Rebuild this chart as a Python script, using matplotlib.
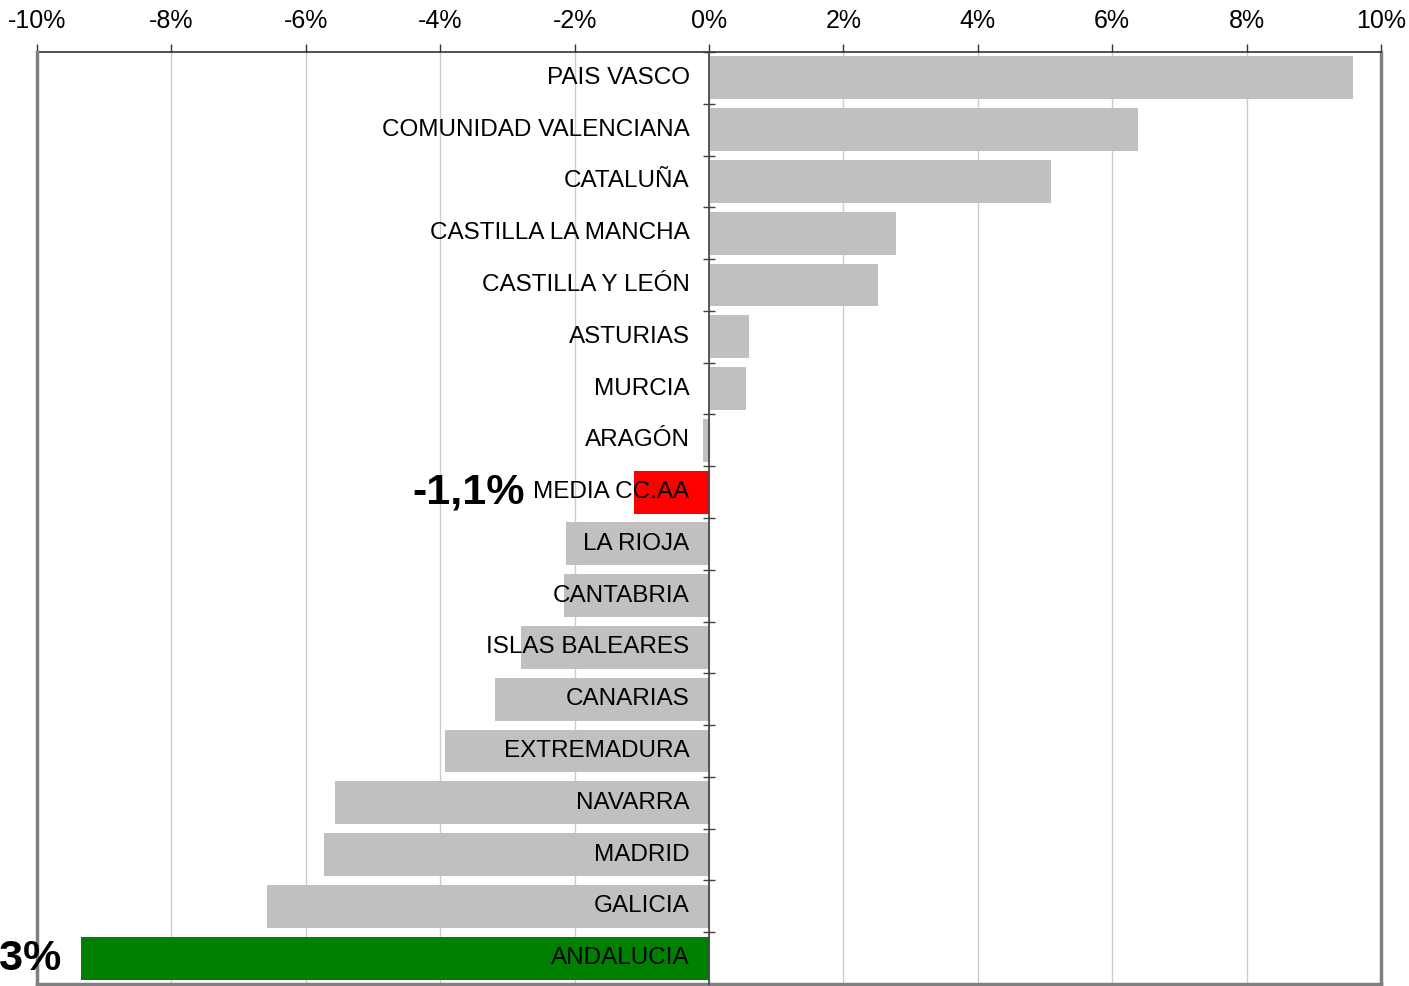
import matplotlib
matplotlib.use("Agg")
import matplotlib.pyplot as plt
import numpy as np
from matplotlib.ticker import FuncFormatter

categories = ["PAIS VASCO", "COMUNIDAD VALENCIANA", "CATALUÑA", "CASTILLA LA MANCHA",
              "CASTILLA Y LEÓN", "ASTURIAS", "MURCIA", "ARAGÓN", "MEDIA CC.AA",
              "LA RIOJA", "CANTABRIA", "ISLAS BALEARES", "CANARIAS", "EXTREMADURA",
              "NAVARRA", "MADRID", "GALICIA", "ANDALUCIA"]
values = [9.59, 6.39, 5.09, 2.78, 2.52, 0.60, 0.55, -0.09, -1.12,
          -2.13, -2.16, -2.80, -3.19, -3.93, -5.57, -5.73, -6.58, -9.34]
highlight_labels = {"MEDIA CC.AA": "-1,1%", "ANDALUCIA": "-9,3%"}
colors = {"MEDIA CC.AA": "#ff0000", "ANDALUCIA": "#008000"}
xticks = [-10, -8, -6, -4, -2, 0, 2, 4, 6, 8, 10]

plt.rcParams['font.family'] = ['Liberation Sans', 'DejaVu Sans']

fig = plt.figure(figsize=(14.09, 9.86), dpi=100)
ax = fig.add_axes([37/1409, 1 - 984/986, (1381-37)/1409, (984-52)/986])

n = len(categories)
y = np.arange(n)
bar_colors = [colors.get(c, "#c0c0c0") for c in categories]
ax.barh(y, values, height=0.83, color=bar_colors, zorder=2)

ax.set_xlim(-10, 10)
ax.set_ylim(n - 0.5, -0.5)

ax.set_xticks(xticks)
ax.xaxis.set_major_formatter(FuncFormatter(lambda v, p: f"{int(round(v))}%"))
ax.xaxis.tick_top()
ax.tick_params(axis='x', which='major', direction='out', length=6, width=1,
               color='#333333', labelsize=18, pad=8, labelcolor='black')
ax.grid(axis='x', color='#cccccc', linewidth=1, zorder=0)

# category axis at zero
ax.spines['left'].set_position(('data', 0))
ax.spines['left'].set_color('#404040')
ax.spines['left'].set_linewidth(1.2)
ax.spines['left'].set_zorder(3)
ax.set_yticks(np.arange(n + 1) - 0.5)
ax.set_yticklabels([])
ax.tick_params(axis='y', direction='inout', length=8, width=1, color='#404040')

ax.spines['top'].set_color('#333333')
ax.spines['top'].set_linewidth(1.2)
for s in ['right', 'bottom']:
    ax.spines[s].set_color('#808080')
    ax.spines[s].set_linewidth(2.5)
ax.axvline(-10, color='#808080', linewidth=2.5, zorder=4, clip_on=False)

cat_texts = {}
for i, (c, v) in enumerate(zip(categories, values)):
    cat_texts[c] = ax.annotate(c, xy=(0, i), xytext=(-14, 0), textcoords='offset points',
                               ha='right', va='center', fontsize=17.5, color='black', zorder=5)

fig.canvas.draw()
renderer = fig.canvas.get_renderer()
for i, (c, v) in enumerate(zip(categories, values)):
    if c in highlight_labels:
        bb = cat_texts[c].get_window_extent(renderer)
        text_left = ax.transData.inverted().transform((bb.x0, 0))[0]
        if v < text_left:
            ax.annotate(highlight_labels[c], xy=(v, i), xytext=(-14, 0),
                        textcoords='offset points', ha='right', va='center',
                        fontsize=31, fontweight='bold', color='black', zorder=5,
                        annotation_clip=False)
        else:
            ax.annotate(highlight_labels[c], xy=(0, 0.5), xycoords=cat_texts[c],
                        xytext=(-6, 0), textcoords='offset points',
                        ha='right', va='center',
                        fontsize=31, fontweight='bold', color='black', zorder=5,
                        annotation_clip=False)

fig.savefig("out.png", dpi=100)
